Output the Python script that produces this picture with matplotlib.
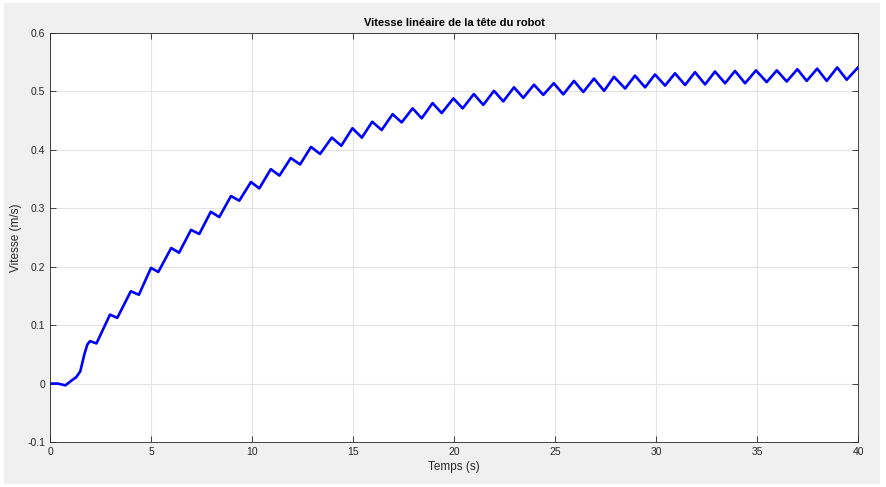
import matplotlib.pyplot as plt
from matplotlib.patches import Rectangle

# points (start, then peaks / troughs)
start_t = [0.0, 0.38, 0.76, 1.1, 1.3, 1.5, 1.7, 1.85]
start_v = [0.0, 0.0, -0.003, 0.006, 0.011, 0.021, 0.05, 0.067]

peak_t = [1.98, 2.97, 4.0, 5.0, 6.0, 6.98, 7.96, 8.96, 9.95, 10.93, 11.92, 12.92,
          13.95, 14.97, 15.95, 16.96, 17.95, 18.94, 19.97, 20.98, 21.98, 22.97,
          23.96, 24.94, 25.94, 26.93, 27.92, 28.96, 29.95, 30.94, 31.93, 32.92,
          33.91, 34.95, 35.98, 37.0, 37.98, 38.97, 40.0]
peak_v = [0.0726, 0.118, 0.158, 0.198, 0.232, 0.263, 0.294, 0.321, 0.345, 0.367,
          0.386, 0.405, 0.421, 0.437, 0.448, 0.461, 0.471, 0.480, 0.488, 0.4955,
          0.501, 0.507, 0.5115, 0.514, 0.518, 0.522, 0.525, 0.527, 0.529, 0.531,
          0.533, 0.534, 0.535, 0.536, 0.536, 0.538, 0.539, 0.541, 0.541]

trough_t = [2.3, 3.33, 4.4, 5.36, 6.39, 7.39, 8.38, 9.37, 10.36, 11.36, 12.38,
            13.37, 14.42, 15.44, 16.42, 17.41, 18.4, 19.39, 20.43, 21.45, 22.44,
            23.43, 24.42, 25.41, 26.4, 27.43, 28.47, 29.46, 30.45, 31.44, 32.43,
            33.42, 34.41, 35.48, 36.47, 37.46, 38.45, 39.44]
trough_v = [0.0687, 0.1124, 0.152, 0.191, 0.224, 0.256, 0.285, 0.313, 0.334,
            0.356, 0.375, 0.393, 0.407, 0.421, 0.434, 0.447, 0.454, 0.463, 0.471,
            0.477, 0.483, 0.489, 0.494, 0.495, 0.499, 0.501, 0.505, 0.507, 0.510,
            0.511, 0.512, 0.514, 0.514, 0.516, 0.517, 0.518, 0.518, 0.520]

xticks = [0, 5, 10, 15, 20, 25, 30, 35, 40]
yticks = [-0.1, 0, 0.1, 0.2, 0.3, 0.4, 0.5, 0.6]
ytick_labels = ['-0.1', '0', '0.1', '0.2', '0.3', '0.4', '0.5', '0.6']

# merge start + alternating peaks/troughs in time order
t = list(start_t)
v = list(start_v)
for i in range(len(peak_t)):
    t.append(peak_t[i])
    v.append(peak_v[i])
    if i < len(trough_t):
        t.append(trough_t[i])
        v.append(trough_v[i])

plt.rcParams['font.family'] = ['Liberation Sans', 'DejaVu Sans']

fig = plt.figure(figsize=(8.86, 4.87), dpi=100, facecolor='white')
fig.patches.append(Rectangle((4 / 886, 3 / 487), 876 / 886, 481 / 487,
                             transform=fig.transFigure, facecolor='#f0f0f0',
                             edgecolor='none', zorder=-10))
ax = fig.add_axes([50 / 886, 1 - 442 / 487, 808 / 886, 409 / 487])
ax.set_facecolor('white')

ax.plot(t, v, color='#0000ff', linewidth=1.9, solid_joinstyle='round')

ax.set_xlim(0, 40)
ax.set_ylim(-0.1, 0.6)
ax.set_xticks(xticks)
ax.set_xticklabels([str(x) for x in xticks])
ax.set_yticks(yticks)
ax.set_yticklabels(ytick_labels)
ax.grid(True, color='#e3e3e3', linewidth=0.8)
ax.set_axisbelow(True)
ax.tick_params(direction='in', length=4, width=0.6, colors='#262626',
               labelsize=7.5, top=True, right=True)
for s in ax.spines.values():
    s.set_color('#262626')
    s.set_linewidth(0.6)

ax.set_title('Vitesse linéaire de la tête du robot', fontsize=8, fontweight='bold',
             color='black', pad=5)
ax.set_xlabel('Temps (s)', fontsize=8.5, color='#262626', labelpad=3)
ax.set_ylabel('Vitesse (m/s)', fontsize=8.5, color='#262626', labelpad=4)

fig.savefig('out.png', dpi=100, facecolor=fig.get_facecolor())
